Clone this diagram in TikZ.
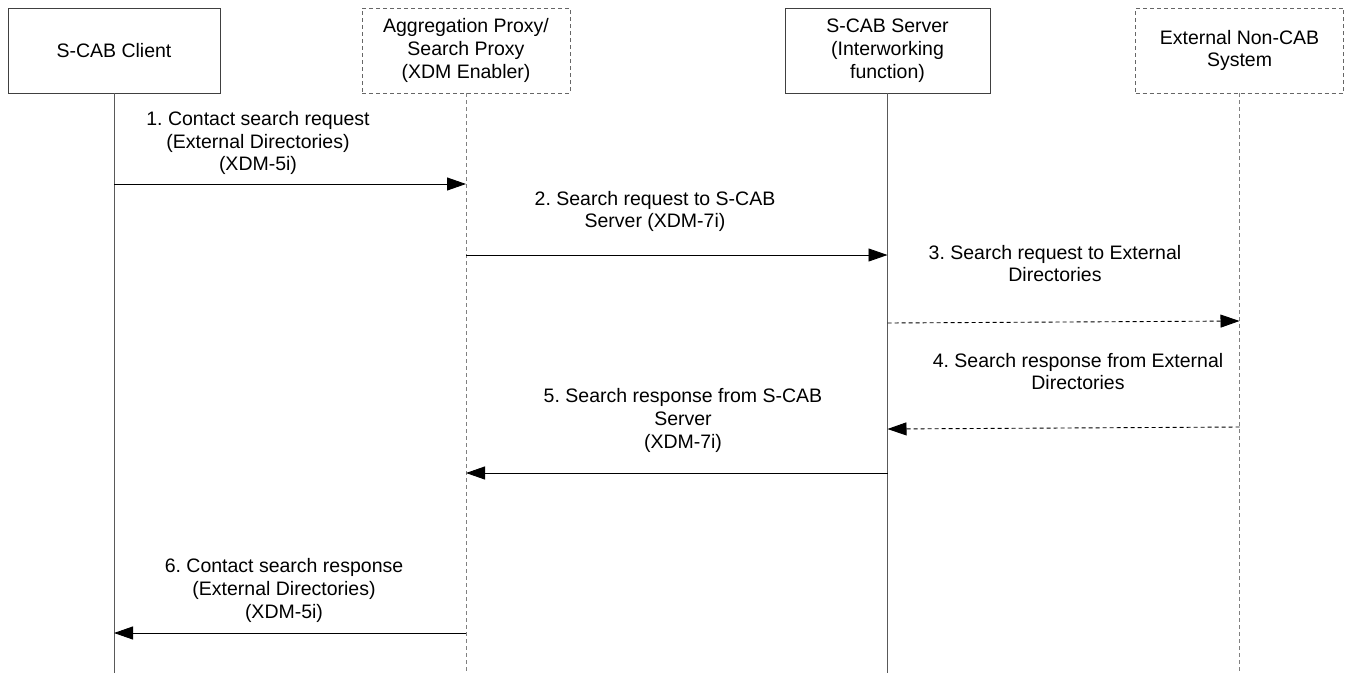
\documentclass[tikz,border=0pt]{standalone}
\usepackage{fontspec}
\setmainfont{Liberation Sans}
\usetikzlibrary{arrows.meta}
\frenchspacing
\begin{document}
\begin{tikzpicture}[
        x=1pt, y=-1pt,
        every node/.style={font=\fontsize{19.5}{22.8}\selectfont, align=center, inner sep=0pt},
        actor/.style={draw=black!75, minimum height=85pt, line width=0.9pt},
        virtual/.style={actor, draw=black!60, dash pattern=on 4pt off 3pt},
        life/.style={draw=black!65, line width=0.9pt},
        vlife/.style={life, draw=black!50, dash pattern=on 4pt off 3pt},
        msg/.style={draw=black, line width=0.9pt, -{Triangle[length=19pt,width=13pt]}},
        vmsg/.style={msg, dash pattern=on 4pt off 3pt},
    ]
    \useasboundingbox (0,0) rectangle (1345,673);

    % participants
    \node[actor, minimum width=212pt](client) at (114,50.5){S-CAB Client};
    \node[virtual, minimum width=208pt](proxy) at (466,50.5){Aggregation Proxy/\\Search Proxy\\(XDM Enabler)};
    \node[actor, minimum width=205pt](server) at (887.5,50.5){S-CAB Server\\(Interworking\\function)};
    \node[virtual, minimum width=208pt](ext) at (1239.5,50.5){External Non-CAB\\System};

    % lifelines
    \coordinate (clientend) at (client.south |- 0,673);
    \coordinate (proxyend) at (proxy.south |- 0,673);
    \coordinate (serverend) at (server.south |- 0,673);
    \coordinate (extend) at (ext.south |- 0,673);
    \draw[life] (client.south) -- (clientend);
    \draw[vlife] (proxy.south) -- (proxyend);
    \draw[life] (server.south) -- (serverend);
    \draw[vlife] (ext.south) -- (extend);

    % message ends
    \coordinate (c1) at (client.south |- 0,184);
    \coordinate (p1) at (proxy.south |- 0,184);
    \coordinate (p2) at (proxy.south |- 0,255);
    \coordinate (s2) at (server.south |- 0,255);
    \coordinate (s3) at (server.south |- 0,323);
    \coordinate (e3) at (ext.south |- 0,321);
    \coordinate (e4) at (ext.south |- 0,427);
    \coordinate (s4) at (server.south |- 0,429);
    \coordinate (s5) at (server.south |- 0,473);
    \coordinate (p5) at (proxy.south |- 0,473);
    \coordinate (p6) at (proxy.south |- 0,633);
    \coordinate (c6) at (client.south |- 0,633);

    % messages
    \draw[msg] (c1) -- (p1);
    \draw[msg] (p2) -- (s2);
    \draw[vmsg] (s3) -- (e3);
    \draw[vmsg] (e4) -- (s4);
    \draw[msg] (s5) -- (p5);
    \draw[msg] (p6) -- (c6);

    % labels
    \node (l1) at (258,143){1. Contact search request\\(External Directories)\\(XDM-5i)};
    \node (l2) at (655,211.5){2. Search request to S-CAB\\Server (XDM-7i)};
    \node (l3) at (1055,263.5){3. Search request to External\\Directories};
    \node (l4) at (1078,371.5){4. Search response from External\\Directories};
    \node (l5) at (683,420.5){5. Search response from S-CAB\\Server\\(XDM-7i)};
    \node (l6) at (284,590.5){6. Contact search response\\(External Directories)\\(XDM-5i)};
\end{tikzpicture}
\end{document}
